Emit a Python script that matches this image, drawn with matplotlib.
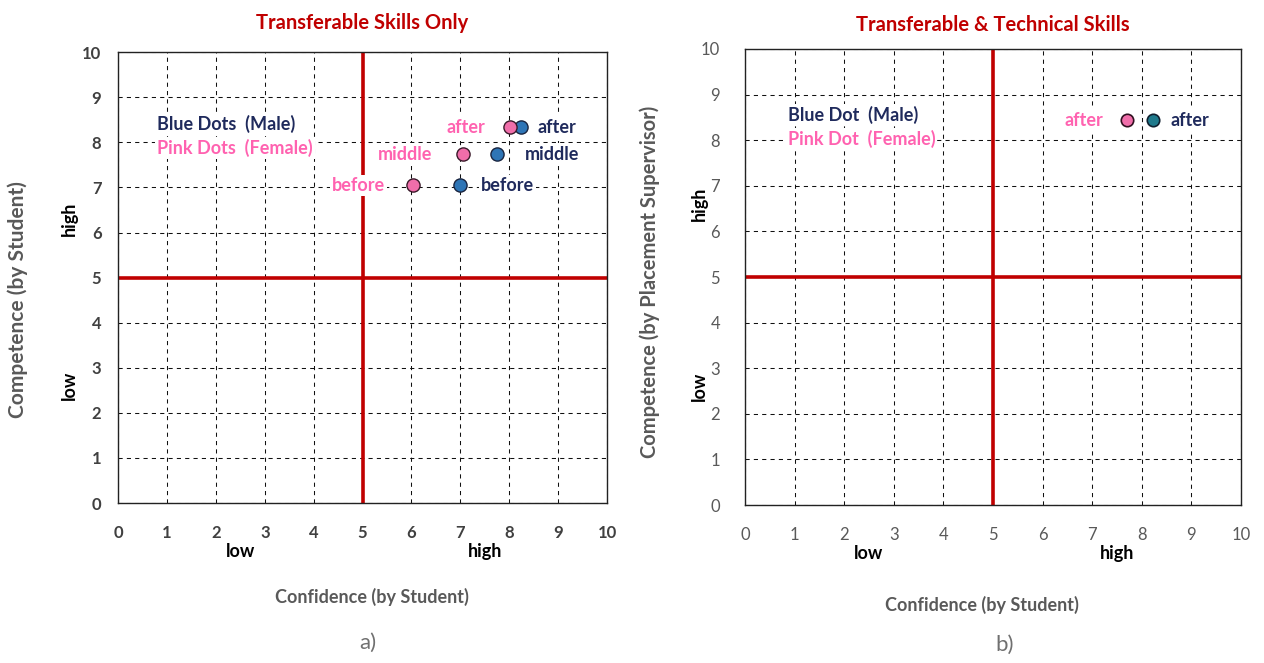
import matplotlib.pyplot as plt

plt.rcParams['font.family'] = ['Lato', 'DejaVu Sans']

# panel a) transferable skills only
stages_a = ["before", "middle", "after"]
male_conf_a = [7.0, 7.75, 8.24]
male_comp_a = [7.05, 7.74, 8.34]
female_conf_a = [6.03, 7.06, 8.02]
female_comp_a = [7.05, 7.74, 8.34]

# panel b) transferable & technical skills
stages_b = ["after"]
male_conf_b = [8.23]
male_comp_b = [8.44]
female_conf_b = [7.7]
female_comp_b = [8.44]

ticks = list(range(0, 11))

RED = "#C00000"
NAVY = "#1F2A5C"
PINK_TXT = "#FF62B0"
PINK = "#F06EAA"
BLUE_A = "#2E75B6"
BLUE_B = "#1F7A8C"
WHITE_BOX = dict(facecolor="white", edgecolor="none", pad=1.5)
FS = 13


def setup(ax, title, tick_bold, tick_color, tick_pad_y, tick_pad_x, title_pad):
    ax.set_xlim(0, 10)
    ax.set_ylim(0, 10)
    ax.set_xticks(ticks)
    ax.set_yticks(ticks)
    ax.tick_params(length=0)
    ax.tick_params(axis="y", pad=tick_pad_y)
    ax.tick_params(axis="x", pad=tick_pad_x)
    for lab in ax.get_xticklabels() + ax.get_yticklabels():
        lab.set_fontsize(12)
        lab.set_color(tick_color)
        lab.set_fontweight("bold" if tick_bold else "normal")
    ax.grid(True, color="#111111", linestyle=(0, (4, 4)), linewidth=0.75, zorder=0)
    ax.set_axisbelow(True)
    for s in ax.spines.values():
        s.set_color("#222222")
        s.set_linewidth(1.0)
    ax.axhline(5, color=RED, lw=2.6, zorder=2)
    ax.axvline(5, color=RED, lw=2.6, zorder=2)
    ax.set_title(title, color=RED, fontsize=14.5, fontweight="bold", pad=title_pad)
    ax.text(2.5, -1.07, "low", ha="center", va="center", fontsize=FS,
            fontweight="bold", clip_on=False)
    ax.text(7.5, -1.07, "high", ha="center", va="center", fontsize=FS,
            fontweight="bold", clip_on=False)


fig = plt.figure(figsize=(12.64, 6.63), dpi=100)
ax1 = fig.add_axes([0.0934, 0.2413, 0.3869, 0.680])
ax2 = fig.add_axes([0.5894, 0.2383, 0.3924, 0.6878])

# ---- panel a
setup(ax1, "Transferable Skills Only", True, "#404040", 12, 16, 17)
ax1.scatter(male_conf_a, male_comp_a, s=90, color=BLUE_A, edgecolors="#1a2540",
            linewidths=1.0, zorder=5)
ax1.scatter(female_conf_a, female_comp_a, s=90, color=PINK, edgecolors="#3a1a2a",
            linewidths=1.0, zorder=5)
male_lab_x = [7.42, 8.32, 8.57]
female_lab_x = [5.46, 6.42, 7.5]
for i, st in enumerate(stages_a):
    ax1.text(male_lab_x[i], male_comp_a[i], st, ha="left", va="center", color=NAVY,
             fontsize=FS, fontweight="bold", bbox=WHITE_BOX, zorder=4)
    ax1.text(female_lab_x[i], female_comp_a[i], st, ha="right", va="center",
             color=PINK_TXT, fontsize=FS, fontweight="bold", bbox=WHITE_BOX, zorder=4)
ax1.text(0.8, 8.4, "Blue Dots  (Male)", color=NAVY, fontsize=FS, fontweight="bold",
         va="center", bbox=WHITE_BOX, zorder=4)
ax1.text(0.8, 7.88, "Pink Dots  (Female)", color=PINK_TXT, fontsize=FS,
         fontweight="bold", va="center", bbox=WHITE_BOX, zorder=4)
ax1.text(-1.0, 6.3, "high", rotation=90, ha="center", va="center", fontsize=FS,
         fontweight="bold", clip_on=False)
ax1.text(-1.0, 2.6, "low", rotation=90, ha="center", va="center", fontsize=FS,
         fontweight="bold", clip_on=False)
ax1.text(-2.05, 4.52, "Competence (by Student)", rotation=90, ha="center", va="center",
         fontsize=15, fontweight="bold", color="#595959", clip_on=False)
ax1.text(5.2, -2.08, "Confidence (by Student)", ha="center", va="center",
         fontsize=FS, fontweight="bold", color="#595959", clip_on=False)

# ---- panel b
setup(ax2, "Transferable & Technical Skills", False, "#595959", 18, 16, 13)
ax2.scatter(male_conf_b, male_comp_b, s=80, color=BLUE_B, edgecolors="#102030",
            linewidths=1.2, zorder=5)
ax2.scatter(female_conf_b, female_comp_b, s=80, color=PINK, edgecolors="#301020",
            linewidths=1.2, zorder=5)
ax2.text(8.57, male_comp_b[0], stages_b[0], ha="left", va="center", color=NAVY,
         fontsize=FS, fontweight="bold", bbox=WHITE_BOX, zorder=4)
ax2.text(7.22, female_comp_b[0], stages_b[0], ha="right", va="center", color=PINK_TXT,
         fontsize=FS, fontweight="bold", bbox=WHITE_BOX, zorder=4)
ax2.text(0.86, 8.55, "Blue Dot  (Male)", color=NAVY, fontsize=FS, fontweight="bold",
         va="center", bbox=WHITE_BOX, zorder=4)
ax2.text(0.86, 8.02, "Pink Dot  (Female)", color=PINK_TXT, fontsize=FS,
         fontweight="bold", va="center", bbox=WHITE_BOX, zorder=4)
ax2.text(-0.92, 6.6, "high", rotation=90, ha="center", va="center", fontsize=FS,
         fontweight="bold", clip_on=False)
ax2.text(-0.92, 2.6, "low", rotation=90, ha="center", va="center", fontsize=FS,
         fontweight="bold", clip_on=False)
ax2.text(-1.92, 4.89, "Competence (by Placement Supervisor)", rotation=90, ha="center",
         va="center", fontsize=14.5, fontweight="bold", color="#595959", clip_on=False)
ax2.text(4.77, -2.2, "Confidence (by Student)", ha="center", va="center",
         fontsize=FS, fontweight="bold", color="#595959", clip_on=False)

fig.text(368 / 1264, 1 - 643 / 663, "a)", ha="center", va="center", fontsize=16,
         color="#707070")
fig.text(1005 / 1264, 1 - 645 / 663, "b)", ha="center", va="center", fontsize=16,
         color="#707070")

fig.savefig("out.png", dpi=100, facecolor="white")
